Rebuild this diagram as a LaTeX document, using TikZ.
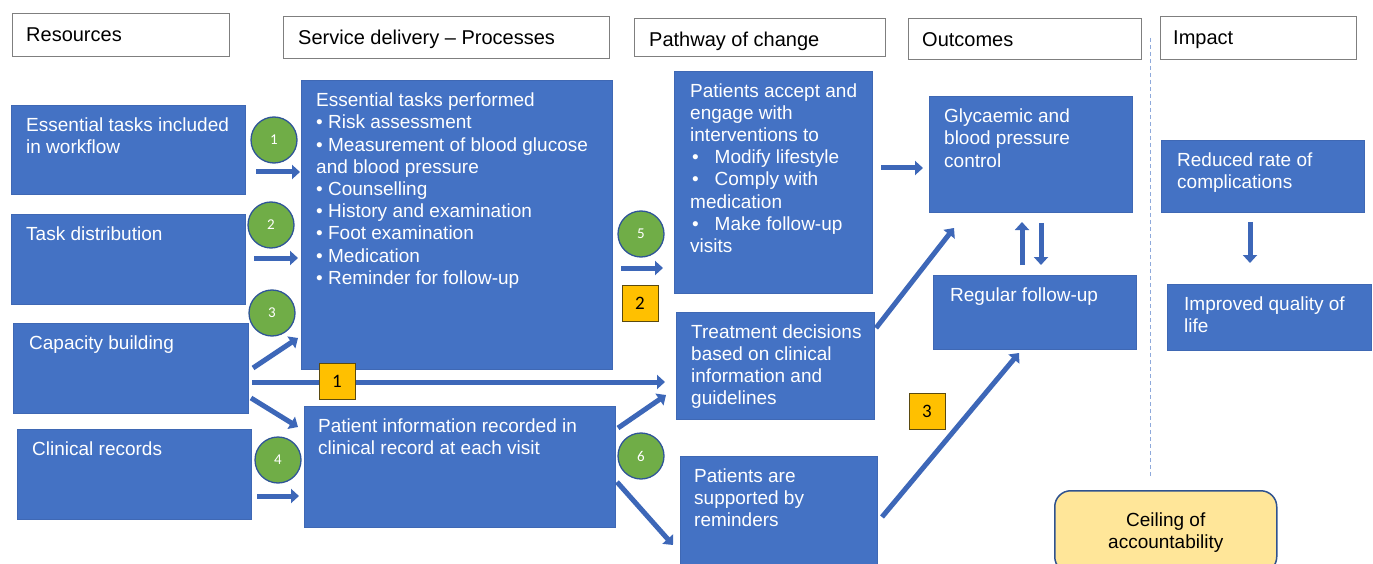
\documentclass[tikz,border=0pt]{standalone}
\usepackage{fontspec}
\setmainfont{Liberation Sans}
\newfontfamily\numfont{Carlito}
\usetikzlibrary{arrows.meta,calc}
\definecolor{boxblue}{HTML}{4472C4}
\definecolor{boxedge}{HTML}{3F68B4}
\definecolor{arrblue}{HTML}{3D67B8}
\definecolor{hdrgray}{HTML}{7F7F7F}
\definecolor{cgreen}{HTML}{70AD47}
\definecolor{cedge}{HTML}{2F5597}
\definecolor{corange}{HTML}{FFC000}
\definecolor{sqedge}{HTML}{5A4A10}
\definecolor{ceilfill}{HTML}{FFE699}
\definecolor{ceiledge}{HTML}{2F528F}
\definecolor{dashblue}{HTML}{8EA9DB}
\newcommand{\pbul}{\hspace{2pt}\makebox[22.5pt][l]{\textbullet}}
\begin{document}
\begin{tikzpicture}[x=1pt,y=-1pt,
  hdr/.style={draw=hdrgray, line width=1pt, fill=white, anchor=north west, inner sep=0, outer sep=0},
  bbox/.style={fill=boxblue, draw=boxedge, line width=0.6pt, anchor=north west, inner sep=0, outer sep=0},
  btext/.style={anchor=north west, inner sep=0, align=left, text=white, font=\fontsize{19}{22.2}\selectfont},
  htext/.style={anchor=base west, inner sep=0, font=\fontsize{20}{24}\selectfont},
  numc/.style={circle, fill=cgreen, draw=cedge, line width=1.3pt, minimum size=46pt, inner sep=0, text=white, font=\numfont\fontsize{15}{18}\selectfont},
  nums/.style={rectangle, fill=corange, draw=sqedge, line width=1pt, minimum size=36pt, inner sep=0, font=\numfont\fontsize{19}{22}\selectfont},
  barrow/.style={draw=arrblue, line width=5pt, -{Triangle[width=14pt,length=8pt]}},
]
\useasboundingbox (0,0) rectangle (1373,564);

% headers
\node[hdr, minimum width=217pt, minimum height=43pt] (hres) at (12,14) {};
\node[hdr, minimum width=326pt, minimum height=42pt] (hsvc) at (283,17) {};
\node[hdr, minimum width=251pt, minimum height=38pt] (hpath) at (634,19) {};
\node[hdr, minimum width=233pt, minimum height=41pt] (hout) at (908,19) {};
\node[hdr, minimum width=196pt, minimum height=43pt] (himp) at (1160,17) {};
\node[htext] (hres-t) at ($(hres.north west)+(14,27.5)$) {Resources};
\node[htext] (hsvc-t) at ($(hsvc.north west)+(15,27.5)$) {Service delivery – Processes};
\node[htext] (hpath-t) at ($(hpath.north west)+(15,27.5)$) {Pathway of change};
\node[htext] (hout-t) at ($(hout.north west)+(14,27.5)$) {Outcomes};
\node[htext] (himp-t) at ($(himp.north west)+(13,27.5)$) {Impact};

% dashed separator
\coordinate (dtop) at (1150,38);
\coordinate (dbot) at (1150,478);
\draw[draw=dashblue, line width=0.9pt, dash pattern=on 4pt off 3pt] (dtop) -- (dbot);

% blue boxes
\node[bbox, minimum width=234pt, minimum height=89pt] (etw) at (11,105) {};
\node[bbox, minimum width=234pt, minimum height=90pt] (td) at (11,214) {};
\node[bbox, minimum width=235pt, minimum height=90pt] (cb) at (13,323) {};
\node[bbox, minimum width=234pt, minimum height=90pt] (cr) at (17,429) {};
\node[bbox, minimum width=311pt, minimum height=289pt] (etp) at (301,80) {};
\node[bbox, minimum width=311pt, minimum height=121pt] (pir) at (304,406) {};
\node[bbox, minimum width=198pt, minimum height=222pt] (pa) at (674,71) {};
\node[bbox, minimum width=198pt, minimum height=107pt] (tdc) at (676,312) {};
\node[bbox, minimum width=197pt, minimum height=114pt] (psr) at (680,456) {};
\node[bbox, minimum width=203pt, minimum height=116pt] (gly) at (929,96) {};
\node[bbox, minimum width=203pt, minimum height=74pt] (rfu) at (933,275) {};
\node[bbox, minimum width=203pt, minimum height=72pt] (rrc) at (1161,140) {};
\node[bbox, minimum width=204pt, minimum height=66pt] (iql) at (1167,284) {};

% box texts
\node[btext] (etw-t) at ($(etw.north west)+(15,11)$) {\strut Essential tasks included\\in workflow};
\node[btext] (td-t) at ($(td.north west)+(15,11)$) {\strut Task distribution};
\node[btext] (cb-t) at ($(cb.north west)+(16,11)$) {\strut Capacity building};
\node[btext] (cr-t) at ($(cr.north west)+(15,11)$) {\strut Clinical records};
\node[btext] (etp-t) at ($(etp.north west)+(15,11)$) {\strut Essential tasks performed\\\textbullet\ Risk assessment\\\textbullet\ Measurement of blood glucose\\and blood pressure\\\textbullet\ Counselling\\\textbullet\ History and examination\\\textbullet\ Foot examination\\\textbullet\ Medication\\\textbullet\ Reminder for follow-up};
\node[btext] (pir-t) at ($(pir.north west)+(14,11)$) {\strut Patient information recorded in\\clinical record at each visit};
\node[btext] (pa-t) at ($(pa.north west)+(16,10.4)$) {\strut Patients accept and\\engage with\\interventions to\\\pbul Modify lifestyle\\\pbul Comply with\\medication\\\pbul Make follow-up\\visits};
\node[btext] (tdc-t) at ($(tdc.north west)+(15,10.4)$) {\strut Treatment decisions\\based on clinical\\information and\\guidelines};
\node[btext] (psr-t) at ($(psr.north west)+(14,10.4)$) {\strut Patients are\\supported by\\reminders};
\node[btext] (gly-t) at ($(gly.north west)+(15,11)$) {\strut Glycaemic and\\blood pressure\\control};
\node[btext] (rfu-t) at ($(rfu.north west)+(17,11)$) {\strut Regular follow-up};
\node[btext] (rrc-t) at ($(rrc.north west)+(16,11)$) {\strut Reduced rate of\\complications};
\node[btext] (iql-t) at ($(iql.north west)+(17,11)$) {\strut Improved quality of\\life};

% ceiling of accountability
\node[anchor=north west, minimum width=222pt, minimum height=82pt, inner sep=0, rounded corners=16pt, fill=ceilfill, draw=ceiledge, line width=1.5pt] (ceil) at (1054,490) {};
\node[anchor=north, inner sep=0, align=center, font=\fontsize{19}{22.2}\selectfont] (ceil-t) at ($(ceil.north)+(0,20.4)$) {\strut Ceiling of\\accountability};

% arrows
\draw[barrow] ($(etw.south east)+(11,-22)$) -- ($(etp.north west)+(-1,92)$);
\draw[barrow] ($(td.south east)+(9,-46)$) -- ($(etp.north west)+(-3,178)$);
\draw[barrow] ($(cb.south east)+(5,-45)$) -- ($(etp.south west)+(-3,-31)$);
\draw[barrow] ($(cb.south east)+(4,-31)$) -- ($(tdc.north west)+(-11,70)$);
\draw[barrow] ($(cb.south east)+(3,-15)$) -- ($(pir.north west)+(-6,21)$);
\draw[barrow] ($(cr.south east)+(6,-23)$) -- ($(pir.north west)+(-5,90)$);
\draw[barrow] ($(pir.north east)+(3,22)$) -- ($(tdc.north west)+(-10,83)$);
\draw[barrow] ($(pir.north east)+(2,76)$) -- ($(psr.north west)+(-7,89)$);
\draw[barrow] ($(etp.north east)+(9,188)$) -- ($(pa.north west)+(-11,197)$);
\draw[barrow] ($(pa.north east)+(9,97)$) -- ($(gly.north west)+(-6,72)$);
\draw[barrow] ($(tdc.north east)+(2,16)$) -- ($(gly.south west)+(25,16)$);
\draw[barrow] ($(rfu.north west)+(89,-10)$) -- ($(gly.south west)+(93,10)$);
\draw[barrow] ($(gly.south west)+(112,11)$) -- ($(rfu.north west)+(108,-10)$);
\draw[barrow] ($(psr.north east)+(5,61)$) -- ($(rfu.south west)+(86,4)$);
\draw[barrow] ($(rrc.south west)+(89,10)$) -- ($(iql.north west)+(83,-21)$);

% numbered circles
\node[numc] (c1) at (274,140) {1};
\node[numc] (c2) at (271,225) {2};
\node[numc] (c3) at (272,313) {3};
\node[numc] (c4) at (278,460) {4};
\node[numc] (c5) at (641,234) {5};
\node[numc] (c6) at (641,456) {6};

% numbered squares
\node[nums] (s2) at (640,303) {2};
\node[nums] (s1) at (337,381) {1};
\node[nums] (s3) at (927,411) {3};
\end{tikzpicture}
\end{document}
